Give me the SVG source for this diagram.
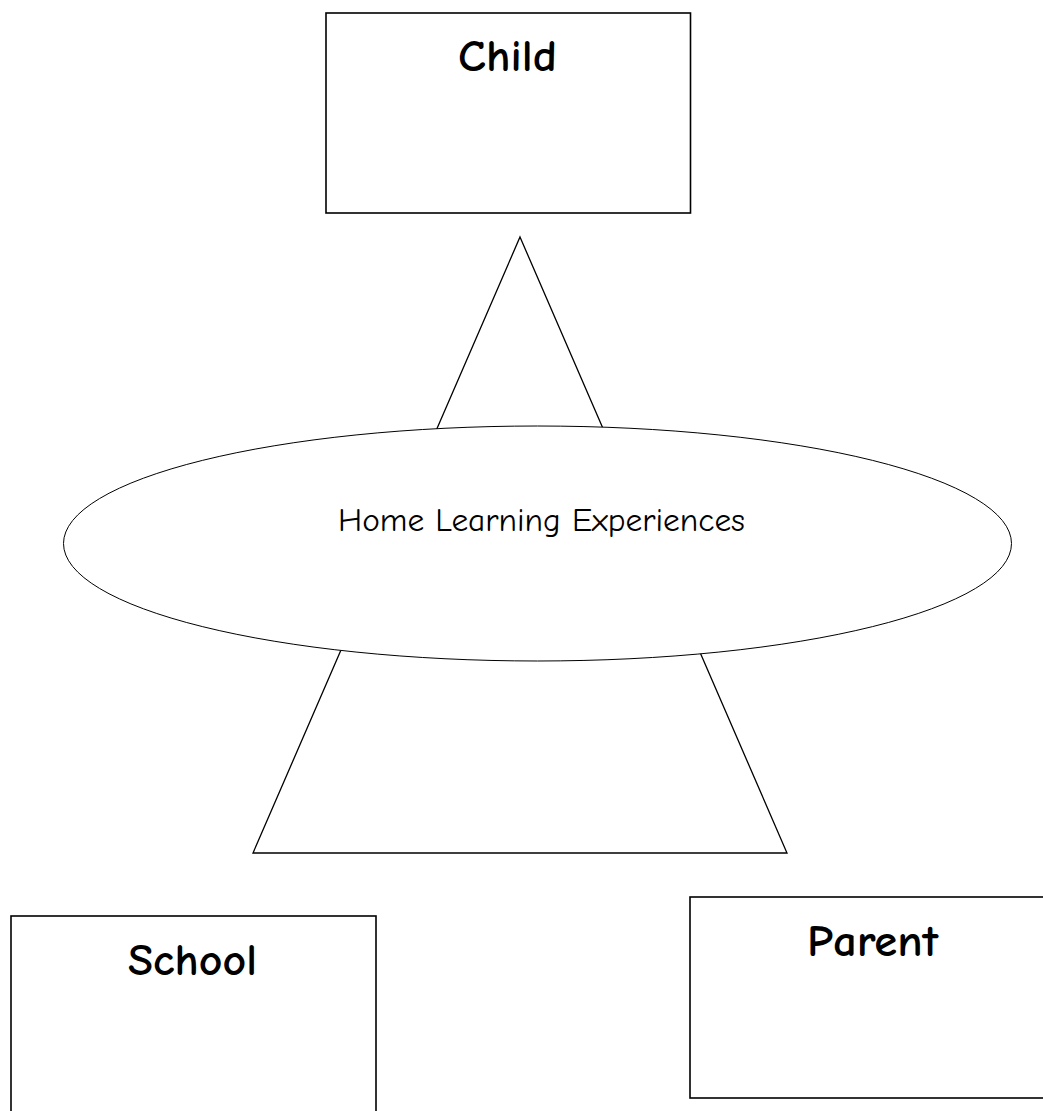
<svg xmlns="http://www.w3.org/2000/svg" width="1043" height="1111" viewBox="0 0 1043 1111">
  <style>
    .box { fill: #ffffff; stroke: #000000; stroke-width: 1.6; }
    .shape { fill: #ffffff; stroke: #000000; stroke-width: 1.3; }
    .oval { fill: #ffffff; stroke: #000000; stroke-width: 1; }
    .title { font-family: "Comic Sans MS", "Comic Neue", "DejaVu Sans", sans-serif; font-weight: bold; font-size: 44px; fill: #000000; text-anchor: middle; }
    .label { font-family: "Comic Sans MS", "Comic Neue", "DejaVu Sans", sans-serif; font-size: 33px; fill: #000000; text-anchor: middle; }
  </style>
  <rect width="1043" height="1111" fill="#ffffff"/>

  <!-- pyramid behind the central oval -->
  <g id="pyramid">
    <polygon class="shape" points="520,237 787,853 253,853"/>
  </g>

  <g id="home-learning">
    <ellipse class="oval" cx="537.5" cy="543.5" rx="474" ry="117.5"/>
    <text class="label" x="541.5" y="531" textLength="407" lengthAdjust="spacingAndGlyphs">Home Learning Experiences</text>
  </g>

  <g id="child">
    <rect class="box" x="326" y="13" width="364.5" height="200"/>
    <text class="title" x="507.5" y="71" textLength="99" lengthAdjust="spacingAndGlyphs">Child</text>
  </g>

  <g id="school">
    <rect class="box" x="11" y="916" width="365" height="220"/>
    <text class="title" x="192.5" y="975" textLength="129" lengthAdjust="spacingAndGlyphs">School</text>
  </g>

  <g id="parent">
    <rect class="box" x="690" y="897" width="370" height="201"/>
    <text class="title" x="872.5" y="956" textLength="131" lengthAdjust="spacingAndGlyphs">Parent</text>
  </g>

  <g id="connectors"/>
</svg>
